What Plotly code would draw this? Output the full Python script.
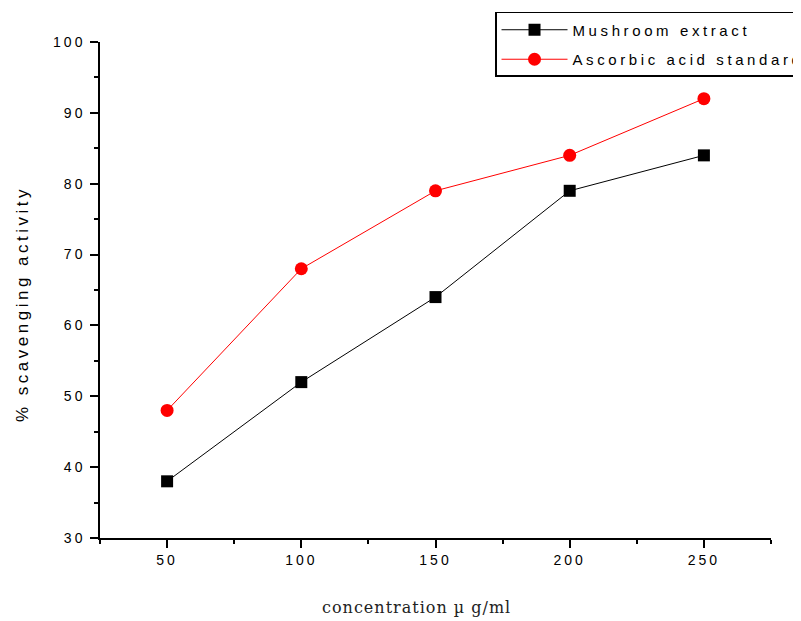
import plotly.graph_objects as go

concentration = [50, 100, 150, 200, 250]
mushroom_extract = [38, 52, 64, 79, 84]
ascorbic_acid = [48, 68, 79, 84, 92]

x_ticks = [50, 100, 150, 200, 250]
y_ticks = [30, 40, 50, 60, 70, 80, 90, 100]

x_title = "concentration µ g/ml"
y_title = "% scavenging activity"


def spaced(t, sp):
    return f'<span style="letter-spacing:{sp}px">{t}</span>'


fig = go.Figure()
fig.add_trace(go.Scatter(
    x=concentration, y=mushroom_extract, mode="lines+markers",
    name=spaced("Mushroom extract", 3.6), legendgroup="a",
    line=dict(color="black", width=1),
    marker=dict(symbol="square", size=12, color="black"),
))
fig.add_trace(go.Scatter(
    x=concentration, y=ascorbic_acid, mode="lines+markers",
    name=spaced("Ascorbic acid standard", 3.6), legendgroup="b",
    line=dict(color="#ff0000", width=1),
    marker=dict(symbol="circle", size=13, color="#ff0000"),
))

axis_common = dict(
    showline=True, linecolor="black", linewidth=1.5,
    ticks="outside", ticklen=8, tickwidth=1.5, tickcolor="black",
    showgrid=False, zeroline=False,
    tickfont=dict(family="Arial, Liberation Sans, sans-serif", size=14, color="black"),
)

fig.update_layout(
    width=801, height=621,
    paper_bgcolor="white", plot_bgcolor="white",
    margin=dict(l=92, r=38, t=34, b=91, autoexpand=False),
    showlegend=True,
    legend=dict(
        x=0.5887, y=1.0605, xanchor="left", yanchor="top",
        bordercolor="black", borderwidth=1.5, bgcolor="white",
        font=dict(family="Arial, Liberation Sans, sans-serif", size=15, color="black"),
        traceorder="grouped", tracegroupgap=7, itemwidth=66,
    ),
    xaxis=dict(
        **axis_common,
        range=[25, 275],
        tickmode="array", tickvals=x_ticks,
        ticktext=[spaced(v, 3) for v in x_ticks],
        ticklabelstandoff=0,
        minor=dict(ticks="outside", ticklen=4, tickwidth=1.5, tickcolor="black",
                   tickmode="linear", tick0=25, dtick=25),
    ),
    yaxis=dict(
        **axis_common,
        range=[30, 100],
        tickmode="array", tickvals=y_ticks,
        ticktext=[spaced(v, 3) for v in y_ticks],
        ticklabelstandoff=2,
        minor=dict(ticks="outside", ticklen=4, tickwidth=1.5, tickcolor="black",
                   tickmode="linear", tick0=35, dtick=10),
    ),
    annotations=[
        dict(text=spaced(x_title, 1), xref="paper", yref="paper",
             x=(408 - 92) / 671, y=-(599 - 530) / 496,
             xanchor="center", yanchor="middle", showarrow=False,
             font=dict(family="DejaVu Serif, serif", size=16, color="#222")),
        dict(text=spaced(y_title, 3.5), xref="paper", yref="paper",
             x=(14 - 92) / 671, y=(530 - 296) / 496, textangle=-90,
             xanchor="center", yanchor="middle", showarrow=False,
             font=dict(family="Arial, Liberation Sans, sans-serif", size=17, color="black")),
    ],
)

fig.write_html("out.html")
